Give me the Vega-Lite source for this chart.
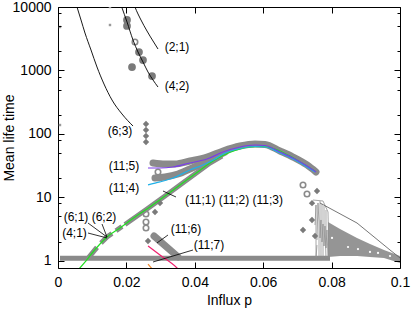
{
"$schema": "https://vega.github.io/schema/vega-lite/v6.json",
"width": 342, "height": 261,
"autosize": {"type": "none"},
"padding": {"left": 58, "top": 7, "right": 15, "bottom": 43},
"background": "white",
"config": {"view": {"stroke": "black", "strokeWidth": 1}, "font": "Liberation Sans"},
"datasets": {
"bands": [
{"id":"A","x":0.02778,"y":34.8},{"id":"A","x":0.03129,"y":33.5},{"id":"A","x":0.03421,"y":33.5},{"id":"A","x":0.0386,"y":37.4},{"id":"A","x":0.04357,"y":43.2},{"id":"A","x":0.04825,"y":53.8},{"id":"A","x":0.05322,"y":64.4},{"id":"A","x":0.0576,"y":69.3},{"id":"A","x":0.06053,"y":68.1},{"id":"A","x":0.06491,"y":53.8},{"id":"A","x":0.06871,"y":43.2},{"id":"A","x":0.07281,"y":32.4},{"id":"A","x":0.07544,"y":25.1},
{"id":"B","x":0.02836,"y":20.2},{"id":"B","x":0.03129,"y":20.9},{"id":"B","x":0.03509,"y":23.3},{"id":"B","x":0.0386,"y":28.0},{"id":"B","x":0.0424,"y":34.8},{"id":"B","x":0.04591,"y":43.2},{"id":"B","x":0.04883,"y":51.8},
{"id":"E","x":0.02807,"y":2.46},{"id":"E","x":0.03509,"y":1.15},
{"id":"C","x":0.01959,"y":3.73},{"id":"C","x":0.02602,"y":6.55},{"id":"C","x":0.03129,"y":10.5},{"id":"C","x":0.03567,"y":15.7},{"id":"C","x":0.04006,"y":23.3},{"id":"C","x":0.04444,"y":34.8},{"id":"C","x":0.04795,"y":44.8},
{"id":"C1","x":0.00877,"y":1.09},{"id":"C1","x":0.0114,"y":1.626},
{"id":"C2","x":0.01257,"y":1.91},{"id":"C2","x":0.01433,"y":2.37},{"id":"C2","x":0.01579,"y":2.69},
{"id":"C3","x":0.01696,"y":2.97},{"id":"C3","x":0.01871,"y":3.47},
{"id":"D","x":0.00058,"y":1.095},{"id":"D","x":0.07953,"y":1.095}
],
"fan": [
{"x":0.07895,"y":4.09,"y2":1.15},{"x":0.08246,"y":3.17,"y2":1.19},{"x":0.08743,"y":2.29,"y2":1.19},{"x":0.09123,"y":1.84,"y2":1.15},{"x":0.09532,"y":1.48,"y2":1.11},{"x":0.1,"y":1.19,"y2":0.923}
],
"contour": [
{"id":"c1","x":0.07544,"y":7.57},{"id":"c1","x":0.07515,"y":3.66},{"id":"c1","x":0.07573,"y":1.77},{"id":"c1","x":0.07544,"y":1.11},
{"id":"c2","x":0.07602,"y":8.15},{"id":"c2","x":0.07632,"y":4.09},{"id":"c2","x":0.07573,"y":2.13},{"id":"c2","x":0.07632,"y":1.11},
{"id":"c3","x":0.07661,"y":8.76},{"id":"c3","x":0.0769,"y":4.40},{"id":"c3","x":0.07661,"y":2.29},{"id":"c3","x":0.0769,"y":1.11},
{"id":"c4","x":0.07719,"y":7.86},{"id":"c4","x":0.07749,"y":3.80},{"id":"c4","x":0.07719,"y":1.98},{"id":"c4","x":0.07749,"y":1.11},
{"id":"c5","x":0.07778,"y":7.31},{"id":"c5","x":0.07807,"y":3.53},{"id":"c5","x":0.07778,"y":1.71},{"id":"c5","x":0.07836,"y":1.11},
{"id":"c6","x":0.07836,"y":6.32},{"id":"c6","x":0.07865,"y":3.06},{"id":"c6","x":0.07836,"y":1.59},{"id":"c6","x":0.07895,"y":1.11},
{"id":"c7","x":0.07456,"y":9.08},{"id":"c7","x":0.07749,"y":8.76},{"id":"c7","x":0.07895,"y":5.88},{"id":"c7","x":0.07924,"y":1.11}
],
"edge": [
{"x":0.07661,"y":8.15},{"x":0.08743,"y":3.94},{"x":0.09708,"y":1.48},{"x":0.1,"y":1.11}
],
"curves": [
{"id":"(6;3)","x":0.00491,"y":12890},{"id":"(6;3)","x":0.00556,"y":10000},{"id":"(6;3)","x":0.00673,"y":6237},{"id":"(6;3)","x":0.00789,"y":3892},{"id":"(6;3)","x":0.00965,"y":2101},{"id":"(6;3)","x":0.0114,"y":1133},{"id":"(6;3)","x":0.01345,"y":611},{"id":"(6;3)","x":0.01579,"y":342},{"id":"(6;3)","x":0.01871,"y":206},{"id":"(6;3)","x":0.02193,"y":133},
{"id":"(4;2)","x":0.0179,"y":12890},{"id":"(4;2)","x":0.01863,"y":10000},{"id":"(4;2)","x":0.02018,"y":5801},{"id":"(4;2)","x":0.02193,"y":3019},{"id":"(4;2)","x":0.02339,"y":1953},{"id":"(4;2)","x":0.02485,"y":1359},{"id":"(4;2)","x":0.02632,"y":945},{"id":"(4;2)","x":0.02778,"y":707},{"id":"(4;2)","x":0.02924,"y":548},
{"id":"(2;1)","x":0.02178,"y":12890},{"id":"(2;1)","x":0.02251,"y":10000},{"id":"(2;1)","x":0.02427,"y":6237},{"id":"(2;1)","x":0.02602,"y":4184},{"id":"(2;1)","x":0.02778,"y":2912},{"id":"(2;1)","x":0.02924,"y":2178}
],
"colored": [
{"id":"green","x":0.00585,"y":0.716},{"id":"green","x":0.00819,"y":0.993},{"id":"green","x":0.01023,"y":1.376},{"id":"green","x":0.01228,"y":1.84},{"id":"green","x":0.01433,"y":2.37},{"id":"green","x":0.01813,"y":3.29},{"id":"green","x":0.02251,"y":4.9},{"id":"green","x":0.02602,"y":6.55},{"id":"green","x":0.03129,"y":10.5},{"id":"green","x":0.03567,"y":15.7},{"id":"green","x":0.04006,"y":23.3},{"id":"green","x":0.04444,"y":34.8},{"id":"green","x":0.04795,"y":44.8},{"id":"green","x":0.05175,"y":54.7},{"id":"green","x":0.05614,"y":62.2},{"id":"green","x":0.05965,"y":63.3},{"id":"green","x":0.06345,"y":57.8},{"id":"green","x":0.06784,"y":44.8},{"id":"green","x":0.07222,"y":32.4},{"id":"green","x":0.07515,"y":26.0},
{"id":"cyan","x":0.02632,"y":15.7},{"id":"cyan","x":0.02982,"y":17.5},{"id":"cyan","x":0.03363,"y":20.2},{"id":"cyan","x":0.0386,"y":27.0},{"id":"cyan","x":0.0424,"y":32.4},{"id":"cyan","x":0.04591,"y":40.2},{"id":"cyan","x":0.04825,"y":48.2},{"id":"cyan","x":0.05322,"y":58.9},{"id":"cyan","x":0.0576,"y":63.3},{"id":"cyan","x":0.06053,"y":62.2},{"id":"cyan","x":0.06491,"y":50.0},{"id":"cyan","x":0.06871,"y":40.2},{"id":"cyan","x":0.07281,"y":30.1},{"id":"cyan","x":0.07515,"y":25.1},
{"id":"purple","x":0.02632,"y":29.0},{"id":"purple","x":0.02982,"y":29.0},{"id":"purple","x":0.03363,"y":30.1},{"id":"purple","x":0.0386,"y":34.8},{"id":"purple","x":0.04357,"y":40.2},{"id":"purple","x":0.04825,"y":51.8},{"id":"purple","x":0.05322,"y":62.2},{"id":"purple","x":0.0576,"y":66.8},{"id":"purple","x":0.06053,"y":65.6},{"id":"purple","x":0.06491,"y":51.8},{"id":"purple","x":0.06871,"y":41.7},{"id":"purple","x":0.07281,"y":31.2},{"id":"purple","x":0.07544,"y":25.1},
{"id":"pink","x":0.02632,"y":1.71},{"id":"pink","x":0.02982,"y":1.23},{"id":"pink","x":0.0348,"y":0.77},{"id":"pink","x":0.03538,"y":0.716},
{"id":"orange","x":0.02632,"y":0.889},{"id":"orange","x":0.02778,"y":0.716}
],
"blobs": [
{"kind":"dot","x":0.02018,"y":6240},{"kind":"dot","x":0.02018,"y":5019},{"kind":"dot","x":0.02368,"y":1953},{"kind":"dot","x":0.02485,"y":1461},{"kind":"dot","x":0.02749,"y":817},{"kind":"dot","x":0.02164,"y":1133},
{"kind":"ring","x":0.02251,"y":2808},{"kind":"ring","x":0.02924,"y":25.1},{"kind":"ring","x":0.07164,"y":15.65},{"kind":"ring","x":0.07281,"y":11.3},{"kind":"ring","x":0.02573,"y":5.47},{"kind":"ring","x":0.02573,"y":4.09},{"kind":"ring","x":0.02573,"y":3.29},
{"kind":"diamond","x":0.02573,"y":143.2},{"kind":"diamond","x":0.02573,"y":115.1},{"kind":"diamond","x":0.02573,"y":92.7},{"kind":"diamond","x":0.02573,"y":74.6},{"kind":"diamond","x":0.02982,"y":8.15},{"kind":"diamond","x":0.02836,"y":5.88},{"kind":"diamond","x":0.02632,"y":2.05},{"kind":"diamond","x":0.07573,"y":12.6},{"kind":"diamond","x":0.07427,"y":8.1},{"kind":"diamond","x":0.07427,"y":4.4},{"kind":"diamond","x":0.07164,"y":3.06},{"kind":"diamond","x":0.07515,"y":2.46},
{"kind":"tiny","x":0.0152,"y":10000},{"kind":"tiny","x":0.0152,"y":5205},{"kind":"tiny","x":0.00058,"y":4838},{"kind":"tiny","x":0.00058,"y":138},
{"kind":"white","x":0.08012,"y":2.29},{"kind":"white","x":0.0848,"y":1.65},{"kind":"white","x":0.08772,"y":1.53},{"kind":"white","x":0.09123,"y":1.38},{"kind":"white","x":0.09357,"y":1.33},{"kind":"white","x":0.09708,"y":1.19}
],
"leaders": [
{"x":0.0345,"y":10.13,"x2":0.0307,"y2":12.59},
{"x":0.00877,"y":3.94,"x2":0.01433,"y2":2.37},
{"x":0.01287,"y":3.8,"x2":0.01433,"y2":2.37},
{"x":0.00877,"y":2.74,"x2":0.01433,"y2":2.29},
{"x":0.03216,"y":2.55,"x2":0.02895,"y2":1.91},
{"x":0.03947,"y":1.48,"x2":0.02778,"y2":0.957}
],
"labels": [
{"x":0.0348,"y":2343,"text":"(2;1)"},
{"x":0.0348,"y":569,"text":"(4;2)"},
{"x":0.01813,"y":111,"text":"(6;3)"},
{"x":0.0193,"y":31.2,"text":"(11;5)"},
{"x":0.0193,"y":14.0,"text":"(11;4)"},
{"x":0.05146,"y":9.08,"text":"(11;1) (11;2) (11;3)"},
{"x":0.00936,"y":4.9,"text":"(6;1) (6;2)"},
{"x":0.00482,"y":2.74,"text":"(4;1)"},
{"x":0.03743,"y":3.17,"text":"(11;6)"},
{"x":0.04415,"y":1.77,"text":"(11;7)"}
]
},
"resolve": {"axis": {"x": "independent", "y": "independent"}},
"layer": [
{
"data": {"name": "bands"},
"transform": [{"filter": "indexof(['A','B','E'], datum.id) >= 0"}],
"mark": {"type": "line", "color": "#8a8a8a", "strokeWidth": 7, "strokeCap": "round", "interpolate": "monotone", "clip": true},
"encoding": {
"x": {"field": "x", "type": "quantitative", "scale": {"domain": [0, 0.1], "nice": false, "zero": false},
"axis": {"orient": "bottom", "values": [0, 0.02, 0.04, 0.06, 0.08, 0.1], "format": "~g", "ticks": false, "domain": false, "grid": false, "labelPadding": 7, "labelFont": "Liberation Sans", "labelFontSize": 14, "labelColor": "black", "labelFlush": false, "title": "Influx p", "titleFont": "Liberation Sans", "titleFontSize": 14, "titleFontWeight": "normal", "titleColor": "black", "titlePadding": 4}},
"y": {"field": "y", "type": "quantitative", "scale": {"type": "log", "domain": [0.77, 10000], "nice": false},
"axis": {"orient": "left", "values": [1, 10, 100, 1000, 10000], "format": "d", "ticks": false, "domain": false, "grid": false, "labelPadding": 7, "labelFont": "Liberation Sans", "labelFontSize": 14, "labelColor": "black", "title": "Mean life time", "titleFont": "Liberation Sans", "titleFontSize": 14, "titleFontWeight": "normal", "titleColor": "black", "titleBaseline": "alphabetic", "titlePadding": -1}},
"detail": {"field": "id"}
}
},
{
"data": {"name": "bands"},
"transform": [{"filter": "indexof(['A','B','E'], datum.id) < 0"}],
"mark": {"type": "line", "color": "#8a8a8a", "strokeWidth": 5, "clip": true},
"encoding": {
"x": {"field": "x", "type": "quantitative", "scale": {"domain": [0, 0.1], "nice": false, "zero": false},
"axis": {"orient": "bottom", "values": [0, 0.02, 0.04, 0.06, 0.08, 0.1], "labels": false, "domain": false, "grid": false, "tickSize": -6, "tickColor": "black", "title": null, "zindex": 1}},
"y": {"field": "y", "type": "quantitative", "scale": {"type": "log", "domain": [0.77, 10000], "nice": false},
"axis": {"orient": "left", "values": [1, 2, 5, 8, 10, 20, 50, 80, 100, 200, 500, 800, 1000, 2000, 5000, 8000, 10000], "labels": false, "domain": false, "grid": false, "tickColor": "black", "tickSize": {"condition": {"test": "indexof([1, 10, 100, 1000, 10000], datum.value) >= 0", "value": -6}, "value": -3}, "title": null, "zindex": 1}},
"detail": {"field": "id"}
}
},
{
"data": {"name": "fan"},
"mark": {"type": "area", "color": "#8a8a8a", "opacity": 0.9, "clip": true},
"encoding": {
"x": {"field": "x", "type": "quantitative", "scale": {"domain": [0, 0.1], "nice": false, "zero": false}, "axis": null},
"y": {"field": "y", "type": "quantitative", "scale": {"type": "log", "domain": [0.77, 10000], "nice": false}, "axis": null},
"y2": {"field": "y2"}
}
},
{
"data": {"name": "contour"},
"mark": {"type": "line", "color": "#8f8f8f", "strokeWidth": 0.8, "clip": true},
"encoding": {
"x": {"field": "x", "type": "quantitative", "scale": {"domain": [0, 0.1], "nice": false, "zero": false}, "axis": null},
"y": {"field": "y", "type": "quantitative", "scale": {"type": "log", "domain": [0.77, 10000], "nice": false}, "axis": null},
"detail": {"field": "id"}
}
},
{
"data": {"name": "edge"},
"mark": {"type": "line", "color": "#666666", "strokeWidth": 0.9, "clip": true},
"encoding": {
"x": {"field": "x", "type": "quantitative", "scale": {"domain": [0, 0.1], "nice": false, "zero": false}, "axis": null},
"y": {"field": "y", "type": "quantitative", "scale": {"type": "log", "domain": [0.77, 10000], "nice": false}, "axis": null}
}
},
{
"data": {"name": "blobs"},
"transform": [{"filter": "datum.kind == 'dot'"}],
"mark": {"type": "point", "shape": "circle", "filled": true, "color": "#7a7a7a", "opacity": 1, "size": 60, "clip": true},
"encoding": {
"x": {"field": "x", "type": "quantitative", "scale": {"domain": [0, 0.1], "nice": false, "zero": false}, "axis": null},
"y": {"field": "y", "type": "quantitative", "scale": {"type": "log", "domain": [0.77, 10000], "nice": false}, "axis": null}
}
},
{
"data": {"name": "blobs"},
"transform": [{"filter": "datum.kind == 'ring'"}],
"mark": {"type": "point", "shape": "circle", "filled": false, "color": "#8a8a8a", "strokeWidth": 1.6, "opacity": 1, "size": 30, "clip": true},
"encoding": {
"x": {"field": "x", "type": "quantitative", "scale": {"domain": [0, 0.1], "nice": false, "zero": false}, "axis": null},
"y": {"field": "y", "type": "quantitative", "scale": {"type": "log", "domain": [0.77, 10000], "nice": false}, "axis": null}
}
},
{
"data": {"name": "blobs"},
"transform": [{"filter": "datum.kind == 'diamond'"}],
"mark": {"type": "point", "shape": "diamond", "filled": true, "color": "#7a7a7a", "opacity": 1, "size": 40, "clip": true},
"encoding": {
"x": {"field": "x", "type": "quantitative", "scale": {"domain": [0, 0.1], "nice": false, "zero": false}, "axis": null},
"y": {"field": "y", "type": "quantitative", "scale": {"type": "log", "domain": [0.77, 10000], "nice": false}, "axis": null}
}
},
{
"data": {"name": "blobs"},
"transform": [{"filter": "datum.kind == 'tiny'"}],
"mark": {"type": "point", "shape": "square", "filled": true, "color": "#9a9a9a", "opacity": 1, "size": 6, "clip": true},
"encoding": {
"x": {"field": "x", "type": "quantitative", "scale": {"domain": [0, 0.1], "nice": false, "zero": false}, "axis": null},
"y": {"field": "y", "type": "quantitative", "scale": {"type": "log", "domain": [0.77, 10000], "nice": false}, "axis": null}
}
},
{
"data": {"name": "blobs"},
"transform": [{"filter": "datum.kind == 'white'"}],
"mark": {"type": "point", "shape": "circle", "filled": true, "color": "#ffffff", "opacity": 1, "size": 5, "clip": true},
"encoding": {
"x": {"field": "x", "type": "quantitative", "scale": {"domain": [0, 0.1], "nice": false, "zero": false}, "axis": null},
"y": {"field": "y", "type": "quantitative", "scale": {"type": "log", "domain": [0.77, 10000], "nice": false}, "axis": null}
}
},
{
"data": {"name": "colored"},
"mark": {"type": "line", "strokeWidth": 1.2, "interpolate": "monotone", "clip": true},
"encoding": {
"x": {"field": "x", "type": "quantitative", "scale": {"domain": [0, 0.1], "nice": false, "zero": false},
"axis": {"orient": "top", "values": [0, 0.02, 0.04, 0.06, 0.08, 0.1], "labels": false, "domain": false, "grid": false, "tickSize": -6, "tickColor": "black", "title": null, "zindex": 1}},
"y": {"field": "y", "type": "quantitative", "scale": {"type": "log", "domain": [0.77, 10000], "nice": false},
"axis": {"orient": "right", "values": [1, 2, 5, 8, 10, 20, 50, 80, 100, 200, 500, 800, 1000, 2000, 5000, 8000, 10000], "labels": false, "domain": false, "grid": false, "tickColor": "black", "tickSize": {"condition": {"test": "indexof([1, 10, 100, 1000, 10000], datum.value) >= 0", "value": -6}, "value": -3}, "title": null, "zindex": 1}},
"color": {"field": "id", "type": "nominal", "legend": null,
"scale": {"domain": ["purple", "cyan", "green", "pink", "orange"], "range": ["#7a3de8", "#1fb0e8", "#22e022", "#f0206e", "#f08a30"]}},
"order": {"value": 0}
}
},
{
"data": {"name": "curves"},
"mark": {"type": "line", "color": "black", "strokeWidth": 0.9, "interpolate": "monotone", "clip": true},
"encoding": {
"x": {"field": "x", "type": "quantitative", "scale": {"domain": [0, 0.1], "nice": false, "zero": false}, "axis": null},
"y": {"field": "y", "type": "quantitative", "scale": {"type": "log", "domain": [0.77, 10000], "nice": false}, "axis": null},
"detail": {"field": "id"}
}
},
{
"data": {"name": "leaders"},
"mark": {"type": "rule", "color": "black", "strokeWidth": 0.8},
"encoding": {
"x": {"field": "x", "type": "quantitative", "scale": {"domain": [0, 0.1], "nice": false, "zero": false}, "axis": null},
"y": {"field": "y", "type": "quantitative", "scale": {"type": "log", "domain": [0.77, 10000], "nice": false}, "axis": null},
"x2": {"field": "x2"},
"y2": {"field": "y2"}
}
},
{
"data": {"name": "labels"},
"mark": {"type": "text", "font": "Liberation Sans", "fontSize": 12, "color": "black", "align": "center", "baseline": "middle"},
"encoding": {
"x": {"field": "x", "type": "quantitative", "scale": {"domain": [0, 0.1], "nice": false, "zero": false}, "axis": null},
"y": {"field": "y", "type": "quantitative", "scale": {"type": "log", "domain": [0.77, 10000], "nice": false}, "axis": null},
"text": {"field": "text"}
}
}
]
}
